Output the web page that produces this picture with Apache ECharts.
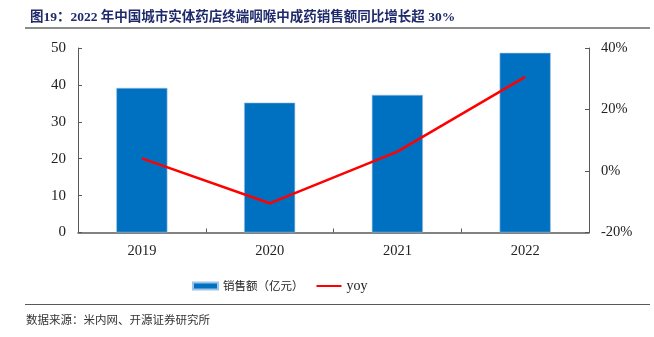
<!DOCTYPE html>
<html>
<head>
<meta charset="utf-8">
<script src="https://cdn.jsdelivr.net/npm/echarts@6/dist/echarts.min.js"></script>
<style>html,body{margin:0;padding:0;background:#fff}#c{width:654px;height:337px}</style>
</head>
<body>
<div id="c"></div>
<script>
var categories = ['2019', '2020', '2021', '2022'];
var salesValues = [39.2, 35.2, 37.3, 48.7];
var yoyValues = [4.1, -10.5, 6.3, 30.6];
var leftTicks = [0, 10, 20, 30, 40, 50];
var rightTicks = [-20, 0, 20, 40];
var titleText = '图19：2022 年中国城市实体药店终端咽喉中成药销售额同比增长超 30%';
var sourceText = '数据来源：米内网、开源证券研究所';

var chart = echarts.init(document.getElementById('c'), null, {renderer: 'canvas'});
var serif = '"Liberation Serif", "Times New Roman", serif';
var axisColor = '#595959';
chart.setOption({
  animation: false,
  backgroundColor: '#fff',
  title: {
    text: titleText,
    left: 25, top: 6,
    textStyle: {fontFamily: '"Liberation Serif", "Noto Sans CJK SC", serif', fontWeight: 'bold', fontSize: 13.5, color: '#1F2A6B'}
  },
  graphic: [
    {type: 'rect', shape: {x: 25, y: 27, width: 625, height: 2}, style: {fill: '#8c8c8c'}},
    {type: 'rect', shape: {x: 25, y: 304, width: 625, height: 1}, style: {fill: '#595959'}},
    {type: 'text', left: 26, top: 314, style: {text: sourceText, fontFamily: '"Noto Sans CJK SC", sans-serif', fontSize: 11.5, fill: '#333'}}
  ],
  legend: {
    top: 274, left: 187,
    itemGap: 12, itemWidth: 25, itemHeight: 7,
    textStyle: {fontSize: 11.5, color: '#222', fontFamily: '"Noto Sans CJK SC", sans-serif'},
    data: [
      {name: '销售额（亿元）', icon: 'rect'},
      {name: 'yoy', itemStyle: {opacity: 0}, textStyle: {fontFamily: serif, fontSize: 14}}
    ]
  },
  grid: {left: 78, right: 65, top: 48, bottom: 104.5, containLabel: false},
  xAxis: {
    type: 'category', data: categories,
    axisLine: {lineStyle: {color: axisColor, width: 1.5}},
    axisTick: {show: true, inside: true, alignWithLabel: false, length: 4, lineStyle: {color: axisColor}},
    axisLabel: {fontFamily: serif, fontSize: 14.5, color: '#222', margin: 11}
  },
  yAxis: [
    {
      type: 'value', min: leftTicks[0], max: leftTicks[leftTicks.length - 1], interval: 10,
      axisLine: {show: true, lineStyle: {color: axisColor}},
      axisTick: {show: true, inside: true, length: 4, lineStyle: {color: axisColor}},
      splitLine: {show: false},
      axisLabel: {fontFamily: serif, fontSize: 15, color: '#222', margin: 12}
    },
    {
      type: 'value', min: rightTicks[0], max: rightTicks[rightTicks.length - 1], interval: 20,
      axisLine: {show: true, lineStyle: {color: axisColor}},
      axisTick: {show: true, inside: true, length: 4, lineStyle: {color: axisColor}},
      splitLine: {show: false},
      axisLabel: {fontFamily: serif, fontSize: 14.5, color: '#222', margin: 12, formatter: '{value}%'}
    }
  ],
  series: [
    {
      name: '销售额（亿元）', type: 'bar', data: salesValues, yAxisIndex: 0,
      barWidth: '40%',
      itemStyle: {color: '#0070C0', borderColor: '#9DC3E6', borderWidth: 0.6}
    },
    {
      name: 'yoy', type: 'line', data: yoyValues, yAxisIndex: 1,
      symbol: 'none', lineStyle: {color: '#FF0000', width: 2.5}, itemStyle: {color: '#FF0000'}
    }
  ]
});
</script>
</body>
</html>
